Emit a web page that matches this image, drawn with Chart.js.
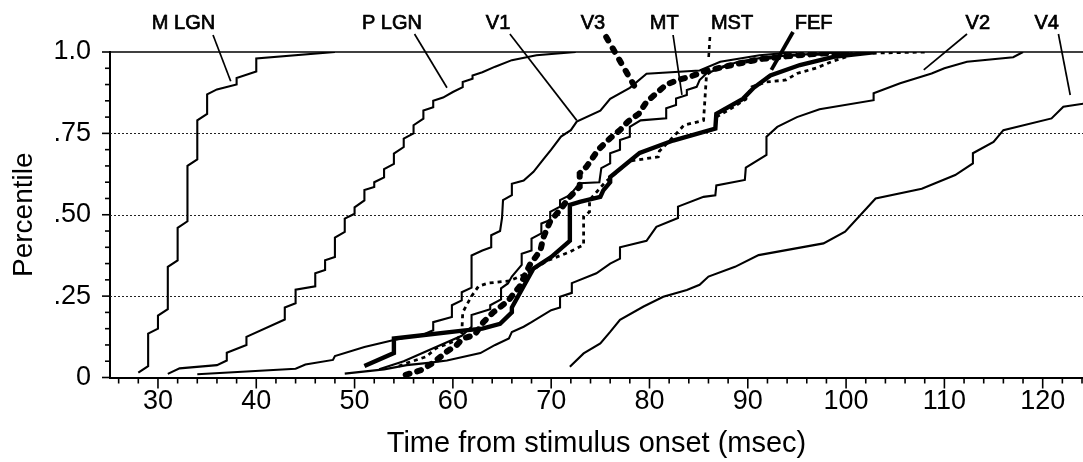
<!DOCTYPE html>
<html><head><meta charset="utf-8">
<script src="https://cdn.jsdelivr.net/npm/chart.js@4/dist/chart.umd.min.js"></script>
<style>html,body{margin:0;padding:0;background:#fff;overflow:hidden}#wrap{width:1083px;height:462px}</style>
</head><body><div id="wrap"><canvas id="c" width="1083" height="462"></canvas></div>
<script>
// ---------- data ----------
const xTickLabels = [30, 40, 50, 60, 70, 80, 90, 100, 110, 120];
const yTickValues = [0, 0.25, 0.5, 0.75, 1.0];
const yTickLabels = ['0', '.25', '.50', '.75', '1.0'];

const mLGN = [[28,.015],[29,.035],[29,.135],[30,.15],[30,.19],[31,.21],[31,.34],[32,.36],[32,.46],[33,.48],[33,.65],[34,.67],[34,.79],[35,.81],[35,.87],[36,.885],[38,.90],[38,.92],[40,.94],[40,.98],[48,1.0]];
const pLGN = [[31,.011],[32.2,.028],[36,.038],[37,.052],[37,.076],[39,.10],[39,.125],[42.9,.178],[42.9,.215],[44,.228],[44,.27],[46,.28],[46,.32],[47,.33],[47,.36],[48,.37],[48,.43],[49,.447],[49,.488],[50,.503],[50,.523],[51,.544],[51,.576],[52,.585],[52,.60],[53,.615],[53,.64],[54,.656],[54,.688],[55,.708],[55,.734],[56,.75],[56,.775],[57,.795],[57,.82],[58,.83],[58,.85],[59,.86],[60,.877],[61,.892],[61,.908],[62,.918],[62,.928],[63,.938],[64.3,.955],[66,.975],[68.5,.99],[72.5,1.0]];
const v1 = [[34,.01],[44,.027],[45,.04],[47.8,.054],[48,.066],[51,.094],[54,.115],[55.6,.125],[57,.132],[58,.145],[58,.17],[59.9,.186],[59.9,.222],[60.9,.237],[60.9,.262],[61.9,.276],[61.9,.375],[63,.39],[63.9,.40],[63.9,.437],[64.8,.45],[65,.49],[65.1,.545],[66,.56],[66,.595],[67.2,.605],[68.2,.632],[69.2,.67],[70,.70],[71,.74],[72,.76],[72.6,.786],[75,.82],[76,.856],[78,.89],[79.7,.933],[85.1,.943],[87.2,.97],[91.2,.99],[95,1.0]];
const v2 = [[49,.012],[53,.025],[55.3,.038],[57.5,.045],[59.4,.052],[62.8,.075],[64.3,.10],[65.7,.12],[66,.14],[67.2,.156],[68,.17],[70,.207],[70.9,.215],[70.9,.248],[72.1,.26],[72.1,.29],[74.6,.32],[76,.35],[77,.365],[77,.40],[79.7,.42],[80.7,.463],[82.9,.49],[82.9,.525],[85.5,.555],[86.7,.56],[86.8,.59],[89.7,.607],[89.8,.645],[91.9,.684],[91.9,.74],[93,.77],[95,.80],[97.3,.824],[102.8,.852],[102.8,.873],[105.5,.904],[108.7,.934],[110,.95],[112.3,.97],[117,.984],[118,1.0]];
const v3 = [[55.2,.008],[56.7,.022],[58,.045],[59.4,.08],[60.4,.10],[61,.12],[62.2,.13],[63.1,.17],[64.1,.2],[65.6,.235],[66.8,.28],[67.8,.345],[68.9,.39],[69.2,.43],[69.9,.48],[70.9,.515],[71.9,.555],[72.9,.586],[72.9,.627],[73.6,.648],[74.8,.70],[76,.735],[77,.76],[77.8,.786],[78.9,.81],[79.7,.847],[80.7,.873],[81.7,.90],[82.9,.914],[84.3,.926],[85.5,.94],[88.4,.96],[91.2,.978],[95,.99],[100,1.0]];
const v4 = [[71.9,.033],[73.3,.074],[75,.105],[76,.14],[77,.177],[79.4,.218],[81.4,.248],[83.8,.269],[85.1,.285],[86,.31],[88.7,.34],[91.1,.376],[97.7,.412],[99.9,.448],[103,.55],[107.7,.58],[111.1,.622],[112.9,.658],[112.9,.689],[115,.724],[116,.76],[120.9,.796],[122.1,.832],[125,.845]];
const mt = [[52.5,.025],[55,.05],[58,.09],[60.9,.128],[61.9,.156],[61.9,.192],[63.8,.21],[63.8,.222],[64.9,.24],[64.9,.274],[65.6,.289],[66,.31],[67,.346],[67,.38],[68,.39],[68,.427],[69,.443],[69,.473],[69.9,.484],[69.9,.509],[70.9,.525],[70.9,.545],[71.9,.56],[72.9,.597],[74.9,.60],[75.1,.643],[76,.658],[76,.689],[77,.70],[77,.73],[78,.74],[78,.77],[79.1,.79],[81.7,.796],[81.7,.827],[82.7,.837],[82.7,.857],[83.8,.868],[83.8,.883],[84.8,.893],[85.1,.914],[85.8,.934],[87.2,.95],[89,.97],[92,.985],[97,.995],[100,1.0]];
const mst = [[54.5,.035],[55.3,.044],[57.3,.064],[58.3,.09],[60,.11],[60.9,.13],[61,.2],[61.9,.25],[62.6,.28],[63.6,.29],[65.8,.297],[67.5,.32],[69.7,.36],[71.9,.386],[72.6,.397],[73.3,.407],[73.3,.494],[73.9,.509],[73.9,.545],[75.5,.60],[78,.665],[80.9,.678],[81,.695],[82.6,.745],[83.5,.775],[85.5,.79],[85.8,.93],[86.5,.945],[88,.96],[91,.975],[94,.99],[100,.995],[108,1.0]];
const mstB = [[86.8,.80],[88.5,.83],[89.8,.855],[90.4,.893],[91.9,.908],[93.9,.914],[95,.934],[97,.951],[98.5,.97],[100,.985]];
const fef = [[51,.035],[54,.075],[54,.12],[61,.144],[63,.15],[64.8,.165],[66,.2],[66,.215],[68.2,.335],[70,.37],[71.9,.42],[71.9,.53],[73,.54],[75,.555],[75.3,.575],[76,.6],[76,.616],[79,.69],[82.4,.728],[86.7,.765],[86.8,.81],[89.5,.856],[90.6,.89],[92.3,.928],[95.3,.96],[98.7,.985],[103,1.0]];

// ---------- styling ----------
const FONT = '"Liberation Sans", Arial, Helvetica, sans-serif';
const pts = a => a.map(([x, y]) => ({x, y}));
const thin = {borderColor:'#000', borderWidth:2.1, pointRadius:0, showLine:true, fill:false, tension:0};
const sets = [
  Object.assign({label:'FEF', data:pts(fef)}, thin, {borderWidth:4.4}),
  Object.assign({label:'V3', data:pts(v3)}, thin, {borderWidth:6, borderDash:[4,8], borderCapStyle:'round'}),
  Object.assign({label:'MST', data:pts(mst)}, thin, {borderWidth:2.8, borderDash:[4,4]}),
  Object.assign({label:'MST', data:pts(mstB)}, thin, {borderWidth:2.8, borderDash:[4,4]}),
  Object.assign({label:'M LGN', data:pts(mLGN)}, thin),
  Object.assign({label:'P LGN', data:pts(pLGN)}, thin),
  Object.assign({label:'V1', data:pts(v1)}, thin),
  Object.assign({label:'V2', data:pts(v2)}, thin),
  Object.assign({label:'V4', data:pts(v4)}, thin),
  Object.assign({label:'MT', data:pts(mt)}, thin)
];

// annotation labels: text centre (x in data units), pointer start (data x, pixel y), pointer end (data x,y)
const annos = [
  {t:'M LGN', tx:32.6, sx:35.6, sy:35, ex:37.4, ey:.91, style:'thin'},
  {t:'P LGN', tx:53.8, sx:56.1, sy:34, ex:59.4, ey:.89, style:'thin'},
  {t:'V1', tx:64.6, sx:65.8, sy:34, ex:72.6, ey:.79, style:'thin'},
  {t:'V3', tx:74.25, sx:75.6, sy:37, ex:78.7, ey:.883, style:'dots'},
  {t:'MT', tx:81.5, sx:82.4, sy:35, ex:83.3, ey:.868, style:'thin'},
  {t:'MST', tx:88.4, sx:86.15, sy:37, ex:86.0, ey:.975, style:'dash'},
  {t:'FEF', tx:96.7, sx:94.6, sy:32, ex:92.4, ey:.945, style:'thick'},
  {t:'V2', tx:113.4, sx:112.3, sy:34, ex:107.9, ey:.945, style:'thin'},
  {t:'V4', tx:120.4, sx:121.6, sy:34, ex:122.8, ey:.868, style:'thin'}
];

const decor = {
  id:'decor',
  beforeDatasetsDraw(chart){
    const {ctx, chartArea:{left,right}, scales:{y}} = chart;
    ctx.save();
    ctx.strokeStyle = '#222'; ctx.lineWidth = 1; ctx.setLineDash([2,2]);
    [0.25, 0.5, 0.75].forEach(v => {
      const py = Math.round(y.getPixelForValue(v)) + 0.5;
      ctx.beginPath(); ctx.moveTo(left, py); ctx.lineTo(right, py); ctx.stroke();
    });
    ctx.setLineDash([]); ctx.lineWidth = 1.6; ctx.strokeStyle = '#000';
    const pt = y.getPixelForValue(1);
    ctx.beginPath(); ctx.moveTo(left, pt); ctx.lineTo(right, pt); ctx.stroke();
    ctx.restore();
  },
  afterDraw(chart){
    const {ctx, chartArea:{left,right,top,bottom}, scales:{x,y}} = chart;
    ctx.save();
    ctx.strokeStyle = '#000'; ctx.lineWidth = 1.6;
    // x ticks
    for (let v = 26; v <= 124; v += 2) {
      const px = x.getPixelForValue(v);
      const len = (v % 10 === 0) ? 11 : 6;
      ctx.beginPath(); ctx.moveTo(px, bottom); ctx.lineTo(px, bottom + len); ctx.stroke();
    }
    // y ticks
    for (let k = 0; k <= 20; k++) {
      const v = k / 20;
      const py = y.getPixelForValue(v);
      const len = (k % 5 === 0) ? 8 : 5;
      ctx.beginPath(); ctx.moveTo(left, py); ctx.lineTo(left - len, py); ctx.stroke();
    }
    // annotations
    ctx.fillStyle = '#000'; ctx.strokeStyle = '#000';
    ctx.font = '20px ' + FONT;
    ctx.textAlign = 'center'; ctx.textBaseline = 'alphabetic';
    annos.forEach(a => {
      const tx = x.getPixelForValue(a.tx);
      ctx.lineWidth = 0.7; ctx.setLineDash([]);
      ctx.fillText(a.t, tx, 28.5);
      ctx.strokeText(a.t, tx, 28.5);
      ctx.save();
      ctx.lineCap = 'butt';
      if (a.style === 'thin') { ctx.lineWidth = 1.7; ctx.setLineDash([]); }
      if (a.style === 'thick') { ctx.lineWidth = 3.8; ctx.setLineDash([]); }
      if (a.style === 'dash') { ctx.lineWidth = 2.6; ctx.setLineDash([4,4]); }
      if (a.style === 'dots') { ctx.lineWidth = 6; ctx.setLineDash([4,9]); ctx.lineCap = 'round'; }
      ctx.beginPath();
      ctx.moveTo(x.getPixelForValue(a.sx), a.sy);
      ctx.lineTo(x.getPixelForValue(a.ex), y.getPixelForValue(a.ey));
      ctx.stroke();
      ctx.restore();
    });
    ctx.restore();
  }
};

new Chart(document.getElementById('c'), {
  type:'scatter',
  data:{datasets:sets},
  plugins:[decor],
  options:{
    responsive:false, animation:false, devicePixelRatio:1,
    layout:{padding:{top:52, right:0, left:0, bottom:0}},
    plugins:{legend:{display:false}, tooltip:{enabled:false}},
    scales:{
      x:{
        type:'linear', min:25.12, max:124.1,
        afterBuildTicks: s => { s.ticks = xTickLabels.map(v => ({value:v})); },
        afterFit: s => { s.height = 84.5; },
        ticks:{color:'#000', font:{family:FONT, size:27}, padding:8, maxRotation:0, autoSkip:false, callback: v => String(v)},
        grid:{display:false, drawTicks:false},
        border:{display:true, color:'#000', width:2},
        title:{display:true, text:'Time from stimulus onset (msec)', color:'#000', font:{family:FONT, size:29}, padding:{top:0, bottom:1}}
      },
      y:{
        type:'linear', min:0, max:1,
        afterBuildTicks: s => { s.ticks = yTickValues.map(v => ({value:v})); },
        afterFit: s => { s.width = 110; },
        ticks:{color:'#000', font:{family:FONT, size:27}, padding:19, callback: v => yTickLabels[yTickValues.indexOf(v)]},
        grid:{display:false, drawTicks:false},
        border:{display:true, color:'#000', width:2},
        title:{display:true, text:'Percentile', color:'#000', font:{family:FONT, size:28}, padding:{top:7, bottom:0}}
      }
    }
  }
});
</script>
</body></html>
